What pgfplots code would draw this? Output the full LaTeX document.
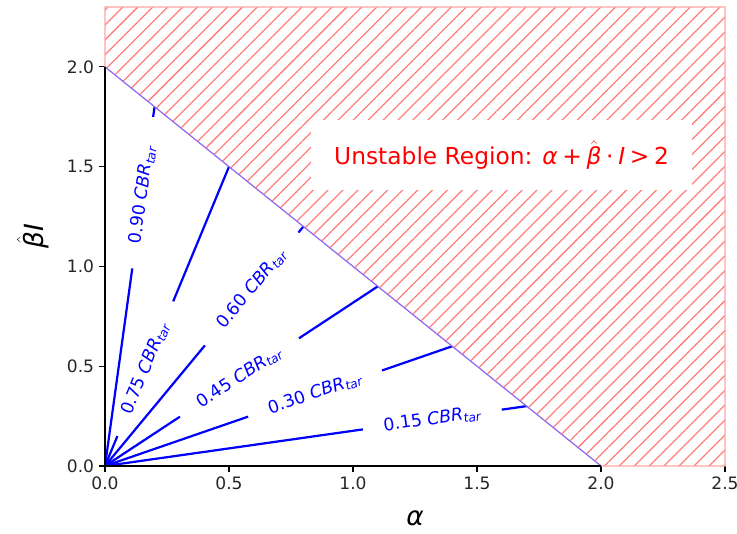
\documentclass[border=0pt]{standalone}
\usepackage{fontspec}
\setmainfont{DejaVu Sans}
\usepackage{pgfplots}
\pgfplotsset{compat=1.18}
\usetikzlibrary{patterns.meta}

\definecolor{hatchred}{RGB}{255,125,125}
\definecolor{edgered}{RGB}{255,165,165}
\definecolor{borderblue}{RGB}{135,110,255}

\newcommand{\hatbeta}{\ensuremath{\hat{\mbox{\itshape β}}}}
\newcommand{\cbr}[1]{#1 {\itshape CBR}\textsubscript{\itshape tar}}

\begin{document}
\begin{tikzpicture}
\begin{axis}[
  scale only axis,
  width=446.4pt, height=330.48pt,
  xmin=0, xmax=2.5, ymin=0, ymax=2.3,
  clip=false,
  axis line style={draw=none},
  xtick={0,0.5,1,1.5,2,2.5},
  ytick={0,0.5,1,1.5,2},
  tick align=outside,
  xtick pos=bottom, ytick pos=left,
  major tick length=4.3pt,
  every tick/.style={black, line width=0.8pt},
  tick label style={font=\fontsize{12.3}{14}\selectfont, text=black!85},
  /pgf/number format/assume math mode=true,
  /pgf/number format/.cd, fixed, fixed zerofill, precision=1, /pgfplots/.cd,
  xlabel={{\itshape α}},
  ylabel={\hatbeta{\itshape I}},
  xlabel style={font=\fontsize{19}{22}\selectfont, at={([yshift=-37.4pt]axis description cs:0.5,0)}, anchor=center},
  ylabel style={font=\fontsize{19}{22}\selectfont, at={([xshift=-51.8pt]axis description cs:0,0.5)}, anchor=center},
]
% unstable region alpha + beta*I > 2
\addplot[draw=edgered, line width=0.8pt,
  pattern={Lines[angle=45, distance=7.6pt, line width=0.9pt]}, pattern color=hatchred]
  coordinates {(0,2) (2,0) (2.5,0) (2.5,2.3) (0,2.3)} -- cycle;

% CBR rays from the origin, split where the inline labels sit
\pgfplotsset{ray/.style={blue, line width=1.6pt}}
\addplot[ray] coordinates {(0,0) (1.04,0.1835)};
\addplot[ray] coordinates {(1.60,0.2824) (1.70,0.30)};
\addplot[ray] coordinates {(0,0) (0.577,0.2473)};
\addplot[ray] coordinates {(1.117,0.4787) (1.40,0.60)};
\addplot[ray] coordinates {(0,0) (0.302,0.2471)};
\addplot[ray] coordinates {(0.782,0.6398) (1.10,0.90)};
\addplot[ray] coordinates {(0,0) (0.403,0.6045)};
\addplot[ray] coordinates {(0.78,1.17) (0.80,1.20)};
\addplot[ray] coordinates {(0,0) (0.05,0.15)};
\addplot[ray] coordinates {(0.275,0.825) (0.50,1.50)};
\addplot[ray] coordinates {(0,0) (0.11,0.99)};
\addplot[ray] coordinates {(0.194,1.749) (0.20,1.80)};

% stability boundary
\addplot[borderblue, line width=0.8pt] coordinates {(0,2) (2,0)};

% left and bottom spines inside the stable region
\draw[black, line width=0.8pt] (axis cs:0,2) -- (axis cs:0,0) -- (axis cs:2,0);

% ray labels
\begin{scope}[every node/.style={text=blue, font=\fontsize{12.5}{14}\selectfont, inner sep=0pt, anchor=center}]
\node[rotate=8.1]  at (axis cs:1.32,0.2330) {\cbr{0.15}};
\node[rotate=19.0] at (axis cs:0.847,0.3630) {\cbr{0.30}};
\node[rotate=33.4] at (axis cs:0.542,0.4435) {\cbr{0.45}};
\node[rotate=50.4] at (axis cs:0.5915,0.8873) {\cbr{0.60}};
\node[rotate=67.5] at (axis cs:0.1625,0.4875) {\cbr{0.75}};
\node[rotate=82.1] at (axis cs:0.151,1.359) {\cbr{0.90}};
\end{scope}

\node[fill=white, text=red, minimum width=274pt, minimum height=50.4pt, inner sep=0pt,
  font=\fontsize{16.8}{20}\selectfont] at (axis cs:1.599,1.559)
  {Unstable Region: {\itshape α}\kern0.2em+\kern0.2em\hatbeta\kern0.2em·\kern0.2em{\itshape I}\kern0.2em>\kern0.2em2};
\end{axis}
\pgfresetboundingbox
\path (-75.6pt,-48.24pt) rectangle (455.04pt,335.52pt);
\end{tikzpicture}
\end{document}
